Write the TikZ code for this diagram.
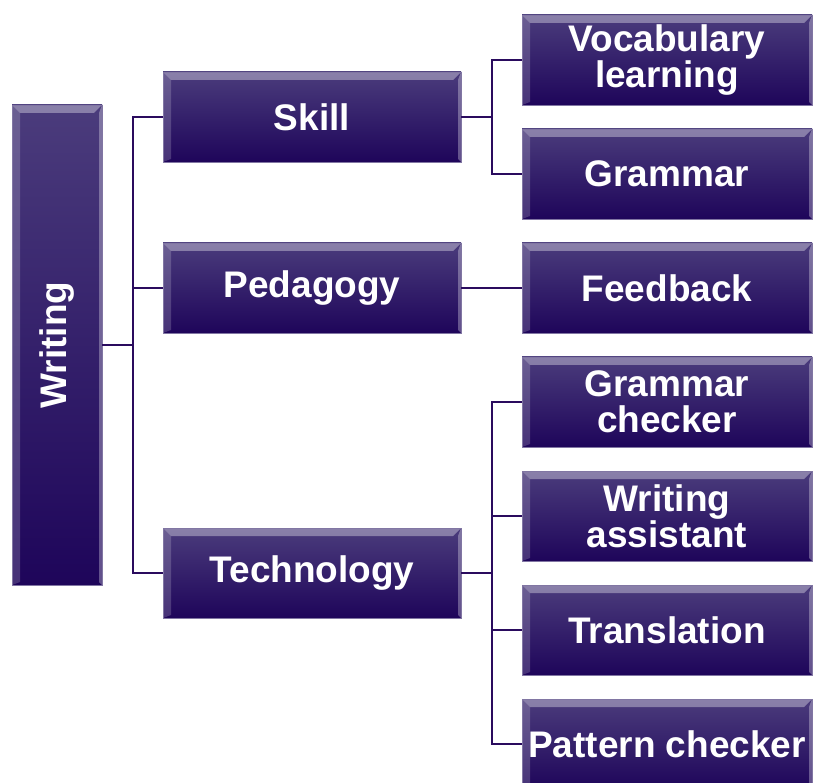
\documentclass[tikz,border=0pt]{standalone}
\usepackage{fontspec}
\setmainfont{Liberation Sans}
\usepackage{xcolor}
\usepackage{tikz}
\usetikzlibrary{positioning, calc}

\definecolor{boxtop}{HTML}{4B3C7C}
\definecolor{boxbot}{HTML}{1E055A}
\definecolor{linkcol}{HTML}{2A0B5E}

\begin{document}
\begin{tikzpicture}[
  x=1pt, y=-1pt,
  node distance=24pt and 61pt,
  every node/.style={font=\fontsize{37}{36}\selectfont\bfseries, text=white},
  bevel/.style={path picture={
      \coordinate (sw) at (path picture bounding box.south west);
      \coordinate (ne) at (path picture bounding box.north east);
      \fill[white, opacity=0.35] (sw|-ne) -- (ne) -- ($(ne)+(-8pt,-8pt)$) -- ($(sw|-ne)+(8pt,-8pt)$) -- cycle;
      \fill[white, opacity=0.18] (sw|-ne) -- ($(sw|-ne)+(8pt,-8pt)$) -- ($(sw)+(8pt,3pt)$) -- (sw) -- cycle;
      \fill[white, opacity=0.30] (ne) -- (ne|-sw) -- ($(ne|-sw)+(-3pt,3pt)$) -- ($(ne)+(-3pt,-8pt)$) -- cycle;
  }},
  block/.style={rectangle, draw=boxtop!70, line width=0.6pt, top color=boxtop,
                bottom color=boxbot, inner sep=0pt, outer sep=0pt,
                minimum height=90pt, align=center, bevel},
  mid/.style={block, minimum width=298pt},
  leaf/.style={block, minimum width=290pt},
  link/.style={draw=linkcol, line width=2pt},
]
\useasboundingbox (0,0) rectangle (814,783);
\clip (0,0) rectangle (814,783);

\node[block, minimum width=90pt, minimum height=480pt, top color=boxtop, bottom color=boxbot,
      label={[rotate=90]center:Writing}] (writing) at (57,345) {};

\node[mid] (skill) at (312,117) {Skill};
\node[mid] (peda)  at (312,288) {Pedagogy};
\node[mid] (tech)  at (312,573) {Technology};

\node[leaf] (vocab)  at (667,60)       {Vocabulary\\learning};
\node[leaf, below=of vocab]  (gram)    {Grammar};
\node[leaf, below=of gram]   (feed)    {Feedback};
\node[leaf, below=of feed]   (gcheck)  {Grammar\\checker};
\node[leaf, below=of gcheck] (assist)  {Writing\\assistant};
\node[leaf, below=of assist] (transl)  {Translation};
\node[leaf, below=of transl] (pattern) {Pattern checker};

% connectors
\coordinate (wj) at ($(writing.east)+(31,0)$);
\coordinate (sj) at ($(skill.east)+(31,0)$);
\coordinate (tj) at ($(tech.east)+(31,0)$);

\draw[link] (writing.east) -- (wj);
\draw[link] (skill.west) -| (wj) |- (tech.west);
\draw[link] (wj) |- (peda.west);

\draw[link] (skill.east) -- (sj);
\draw[link] (vocab.west) -| (sj) |- (gram.west);

\draw[link] (peda.east) -- (feed.west);

\draw[link] (tech.east) -- (tj);
\draw[link] (gcheck.west) -| (tj) |- (pattern.west);
\draw[link] (tj) |- (assist.west);
\draw[link] (tj) |- (transl.west);
\end{tikzpicture}
\end{document}
